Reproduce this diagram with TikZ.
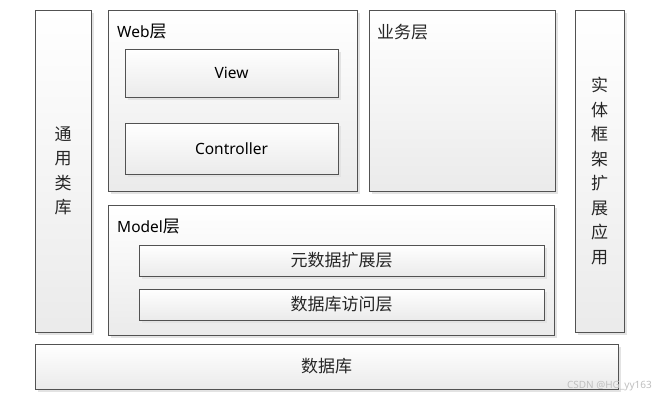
\documentclass[tikz,border=0pt]{standalone}
\usepackage{fontspec}
\setmainfont{Noto Sans}
\newfontfamily\cjk{Noto Sans CJK SC}
\usetikzlibrary{shadows}
\tikzset{
  box/.style={draw=black!68, line width=0.9pt, top color=white, bottom color=black!8,
    drop shadow={shadow xshift=3pt, shadow yshift=-3pt, fill=black!11, opacity=1},
    inner sep=0pt},
  lat/.style={font=\fontsize{15.5}{18}\selectfont, text=black},
  zh/.style={font=\cjk\fontsize{17}{19}\selectfont, text=black!85},
  vert/.style={font=\cjk\fontsize{17}{24.5}\selectfont, text=black!85, align=center},
  title/.style={anchor=west, inner sep=0pt}
}
\begin{document}
\begin{tikzpicture}[x=1pt,y=-1pt]
\useasboundingbox[fill=white] (0,0) rectangle (658,400);
% side columns
\node[box, vert, minimum width=56pt, minimum height=322pt] (lib) at (63,171) {通\\用\\类\\库};
\node[box, vert, minimum width=49pt, minimum height=322pt] (ef) at (599.5,171) {实\\体\\框\\架\\扩\\展\\应\\用};
% web layer
\node[box, minimum width=249pt, minimum height=181pt] (web) at (232.5,100.5) {};
\node[title, lat] (webl) at (117,32) {Web{\cjk\fontsize{17}{19}\selectfont 层}};
\node[box, lat, minimum width=213pt, minimum height=48pt] (view) at (231.5,73) {View};
\node[box, lat, minimum width=213pt, minimum height=51pt] (ctrl) at (231.5,148.5) {Controller};
% business layer
\node[box, minimum width=186pt, minimum height=181pt] (biz) at (462,100.5) {};
\node[title, zh] (bizl) at (377,32) {业务层};
% model layer
\node[box, minimum width=446pt, minimum height=130pt] (model) at (331,270) {};
\node[title, lat] (modell) at (117,227) {Model{\cjk\fontsize{17}{19}\selectfont 层}};
\node[box, zh, minimum width=405pt, minimum height=31pt] (meta) at (341.5,260.5) {元数据扩展层};
\node[box, zh, minimum width=405pt, minimum height=31pt] (dal) at (341.5,304.5) {数据库访问层};
% database
\node[box, zh, minimum width=583pt, minimum height=45pt] (db) at (326.5,366.5) {数据库};
% watermark
\node[anchor=east, inner sep=0pt, text=black!25, font=\fontsize{10}{12}\selectfont] (wm) at (652,386) {CSDN @HG\_yy163};
\end{tikzpicture}
\end{document}
